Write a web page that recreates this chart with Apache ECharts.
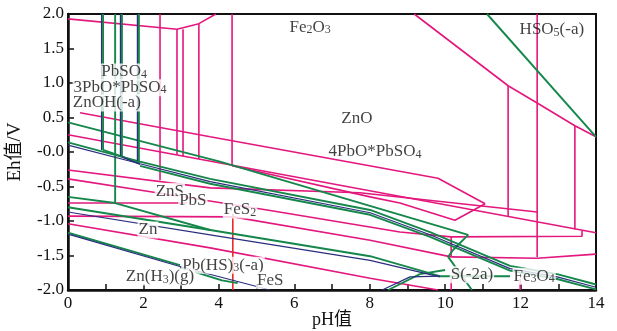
<!DOCTYPE html>
<html>
<head>
<meta charset="utf-8">
<script src="https://cdn.jsdelivr.net/npm/echarts@6/dist/echarts.min.js"></script>
<style>
  html, body { margin: 0; padding: 0; background: #fff; }
  #chart { width: 617px; height: 331px; }
</style>
</head>
<body>
<div id="chart"></div>
<script>
// Tick labels
const xTickLabels = ['0', '2', '4', '6', '8', '10', '12', '14'];
const yTickLabels = ['-2.0', '-1.5', '-1.0', '-0.5', '-0.0', '0.5', '1.0', '1.5', '2.0'];

// Boundary lines, each point is [pH, Eh (V)]
// --- Fe / Zn boundaries (magenta)
const pinkTop   = [[0, 1.93], [2.89, 1.78], [3.47, 1.86], [3.92, 2.0]];
const pinkV1    = [[2.44, 2.0], [2.44, -0.41]];
const pinkV2    = [[2.89, 1.78], [2.89, -0.04]];
const pinkV3    = [[3.05, 1.78], [3.05, -0.06]];
const pinkV4    = [[3.47, 1.86], [3.47, -0.10]];
const pinkV5    = [[4.35, 2.0], [4.35, -0.19]];
const pinkP1    = [[0.32, 0.57], [3.77, 0.22], [9.81, -0.38], [11.06, -0.75]];
const pinkE     = [[4.35, -0.20], [8.01, -0.65], [8.80, -0.74], [10.26, -0.99], [11.06, -0.75]];
const pinkD     = [[0, 0.25], [14, -1.17]];
const pinkG     = [[9.18, 2.0], [11.67, 0.96], [12.44, 0.71], [13.44, 0.38], [14, 0.22]];
const pinkR1    = [[11.67, 0.96], [11.67, -0.93]];
const pinkR2    = [[12.44, 2.0], [12.44, -1.52]];
const pinkR3    = [[13.44, 0.38], [13.44, -1.12]];
const pinkI1    = [[0, -0.26], [3.77, -0.52], [7.74, -0.59], [12.44, -0.87]];
const pinkI2    = [[0, -0.39], [2.36, -0.59], [5.28, -0.84], [8.80, -1.16], [10.16, -1.23]];
const pinkI3    = [[0, -0.74], [3.16, -0.74]];
const pinkI4    = [[0, -0.93], [4.38, -0.94], [8.01, -1.28], [10.16, -1.52]];
const pinkK     = [[0, -1.04], [3.77, -1.39], [8.01, -1.83], [9.81, -2.0]];
const pinkH     = [[10.16, -1.23], [13.63, -1.22], [13.63, -1.14]];
const pinkHV    = [[10.16, -1.23], [10.16, -1.52]];
const pinkB     = [[10.16, -1.52], [12.44, -1.54], [14, -1.48]];
const pinkS1    = [[10.16, -1.84], [10.16, -2.0]];
const pinkS2    = [[11.99, -1.84], [11.99, -2.0]];

// --- FeS2 boundary (red)
const redFeS2   = [[4.37, -0.90], [4.37, -2.0]];

// --- Pb / S boundaries (green)
const greenTR   = [[11.11, 2.0], [14, 0.22]];
const greenV1   = [[0.93, 2.0], [0.93, 0.03]];
const greenV2   = [[1.25, 2.0], [1.25, -0.74]];
const greenV3   = [[1.43, 2.0], [1.43, -0.06]];
const greenV4   = [[1.88, 2.0], [1.88, -0.14]];
const greenG1   = [[0, 0.43], [4.03, -0.14], [10.61, -1.20], [10.21, -1.42], [10.08, -1.52], [10.71, -2.0]];
const greenG2   = [[0.93, 0.03], [1.25, -0.03], [1.91, -0.16]];
const greenG1b  = [[0, 0.14], [1.91, -0.14], [3.77, -0.39], [8.01, -0.84], [9.60, -1.16], [11.72, -1.65], [12.97, -1.77], [14, -1.92]];
const greenG1c  = [[1.91, -0.20], [3.77, -0.46], [8.01, -0.91], [9.60, -1.23], [11.72, -1.72], [12.97, -1.84], [14, -1.99]];
const greenG3   = [[0, -0.80], [3.77, -1.13], [8.01, -1.51], [9.86, -1.80], [11.72, -1.80]];
const greenG4   = [[0, -0.65], [1.25, -0.74], [3.77, -1.13]];
const greenL    = [[0, -1.17], [2.97, -1.64]];
const greenL2   = [[2.97, -1.67], [4.08, -1.86], [4.50, -1.90]];
const greenX    = [[8.49, -2.0], [9.33, -1.77], [10.0, -1.71]];

// --- Pb / S boundaries (dark blue)
const navyV1    = [[0.89, 2.0], [0.89, 0.03]];
const navyV3    = [[1.39, 2.0], [1.39, -0.06]];
const navyV4    = [[1.84, 2.0], [1.84, -0.13]];
const navyG2    = [[1.43, -0.07], [1.91, -0.18]];
const navyG1b   = [[0, 0.10], [1.91, -0.17], [3.77, -0.43], [8.01, -0.88], [9.60, -1.20], [11.72, -1.69], [12.97, -1.81], [14, -1.96]];
const navyG3    = [[0, -0.87], [3.77, -1.20], [8.01, -1.57], [9.86, -1.81]];
const navyL     = [[0, -1.19], [2.97, -1.66], [5.36, -2.0]];
const navyX     = [[8.33, -2.0], [9.07, -1.81], [9.86, -1.80]];

// Field names and their positions [pH, Eh]
const fieldNames = [
  '{n|Fe}{s|2}{n|O}{s|3}',
  '{n|HSO}{s|5}{n|(-a)}',
  '{n|PbSO}{s|4}',
  '{n|3PbO*PbSO}{s|4}',
  '{n|ZnOH(-a)}',
  '{n|ZnO}',
  '{n|4PbO*PbSO}{s|4}',
  '{n|ZnS}',
  '{n|PbS}',
  '{n|FeS}{s|2}',
  '{n|Zn}',
  '{n|Pb(HS)}{s|3}{n|(-a)}',
  '{n|Zn(H}{s|3}{n|)(g)}',
  '{n|FeS}',
  '{n|S(-2a)}',
  '{n|Fe}{s|3}{n|O}{s|4}'
];
const fieldPos = [
  [6.42, 1.80], [12.83, 1.77], [1.49, 1.16], [1.38, 0.93], [1.03, 0.71],
  [7.66, 0.48], [8.14, 0.0], [2.70, -0.57], [3.31, -0.71], [4.56, -0.84],
  [2.12, -1.13], [4.11, -1.64], [2.44, -1.81], [5.36, -1.86], [10.71, -1.78], [12.36, -1.80]
];
const fieldOpaque = [false, false, true, true, true, false, false, true, true, true, true, true, true, true, true, true];

const PINK = '#e3177d';
const GREEN = '#15874a';
const NAVY = '#2b2e7e';
const RED = '#e82a2a';
const INK = '#111';
const SERIF = "'Liberation Serif', 'DejaVu Serif', serif";
const AXISNAME = "'Liberation Serif', 'Noto Sans CJK SC', serif";

const groups = [
  { color: PINK, width: 1.6, z: 2, lines: [pinkTop, pinkV1, pinkV2, pinkV3, pinkV4, pinkV5, pinkP1, pinkE, pinkD, pinkG,
      pinkR1, pinkR2, pinkR3, pinkI1, pinkI2, pinkI3, pinkI4, pinkK, pinkH, pinkHV, pinkB, pinkS1, pinkS2] },
  { color: RED, width: 1.6, z: 3, lines: [redFeS2] },
  { color: GREEN, width: 1.9, z: 4, lines: [greenTR, greenV1, greenV2, greenV3, greenV4, greenG1, greenG2, greenG1b, greenG1c,
      greenG3, greenG4, greenL, greenL2, greenX] },
  { color: NAVY, width: 1.2, z: 5, lines: [navyV1, navyV3, navyV4, navyG2, navyG1b, navyG3, navyL, navyX] }
];

const series = [];
groups.forEach(g => {
  g.lines.forEach(pts => {
    series.push({
      type: 'line',
      data: pts,
      symbol: 'none',
      silent: true,
      z: g.z,
      lineStyle: { color: g.color, width: g.width }
    });
  });
});

series.push({
  type: 'scatter',
  symbolSize: 0,
  silent: true,
  z: 10,
  data: fieldPos.map((p, i) => ({
    value: p,
    label: {
      show: true,
      position: 'inside',
      formatter: fieldNames[i],
      backgroundColor: fieldOpaque[i] ? '#fff' : 'transparent',
      padding: [0, 1],
      rich: {
        n: { fontFamily: SERIF, fontSize: 17, color: INK, lineHeight: 17, verticalAlign: 'top' },
        s: { fontFamily: SERIF, fontSize: 12, color: INK, lineHeight: 6, verticalAlign: 'bottom' }
      }
    }
  }))
});

const chart = echarts.init(document.getElementById('chart'), null, { renderer: 'canvas' });
chart.setOption({
  animation: false,
  backgroundColor: '#fff',
  grid: { left: 68, right: 21, top: 14, bottom: 41, containLabel: false, outerBoundsMode: 'none',
          show: true, borderColor: INK, borderWidth: 2, backgroundColor: 'transparent' },
  xAxis: {
    type: 'value', min: 0, max: 14, interval: 1,
    axisLine: { onZero: false, lineStyle: { color: INK, width: 2.5 } },
    axisTick: { inside: true, length: 6, lineStyle: { color: INK, width: 1.5 } },
    splitLine: { show: false },
    axisLabel: {
      margin: 5, fontFamily: SERIF, fontSize: 17, color: INK,
      formatter: v => (v % 2 === 0 ? xTickLabels[v / 2] : '')
    },
    name: 'pH值', nameLocation: 'middle', nameGap: 21, nameMoveOverlap: false,
    nameTextStyle: { fontFamily: AXISNAME, fontSize: 18, color: INK }
  },
  yAxis: {
    type: 'value', min: -2, max: 2, interval: 0.5,
    axisLine: { onZero: false, lineStyle: { color: INK, width: 2.5 } },
    axisTick: { inside: true, length: 6, lineStyle: { color: INK, width: 1.5 } },
    splitLine: { show: false },
    axisLabel: {
      margin: 4, fontFamily: SERIF, fontSize: 17, color: INK,
      formatter: v => yTickLabels[Math.round((v + 2) / 0.5)]
    },
    name: 'Eh值/V', nameLocation: 'middle', nameGap: 43, nameRotate: 90,
    nameTextStyle: { fontFamily: AXISNAME, fontSize: 19, color: INK }
  },
  series: series
});
</script>
</body>
</html>
